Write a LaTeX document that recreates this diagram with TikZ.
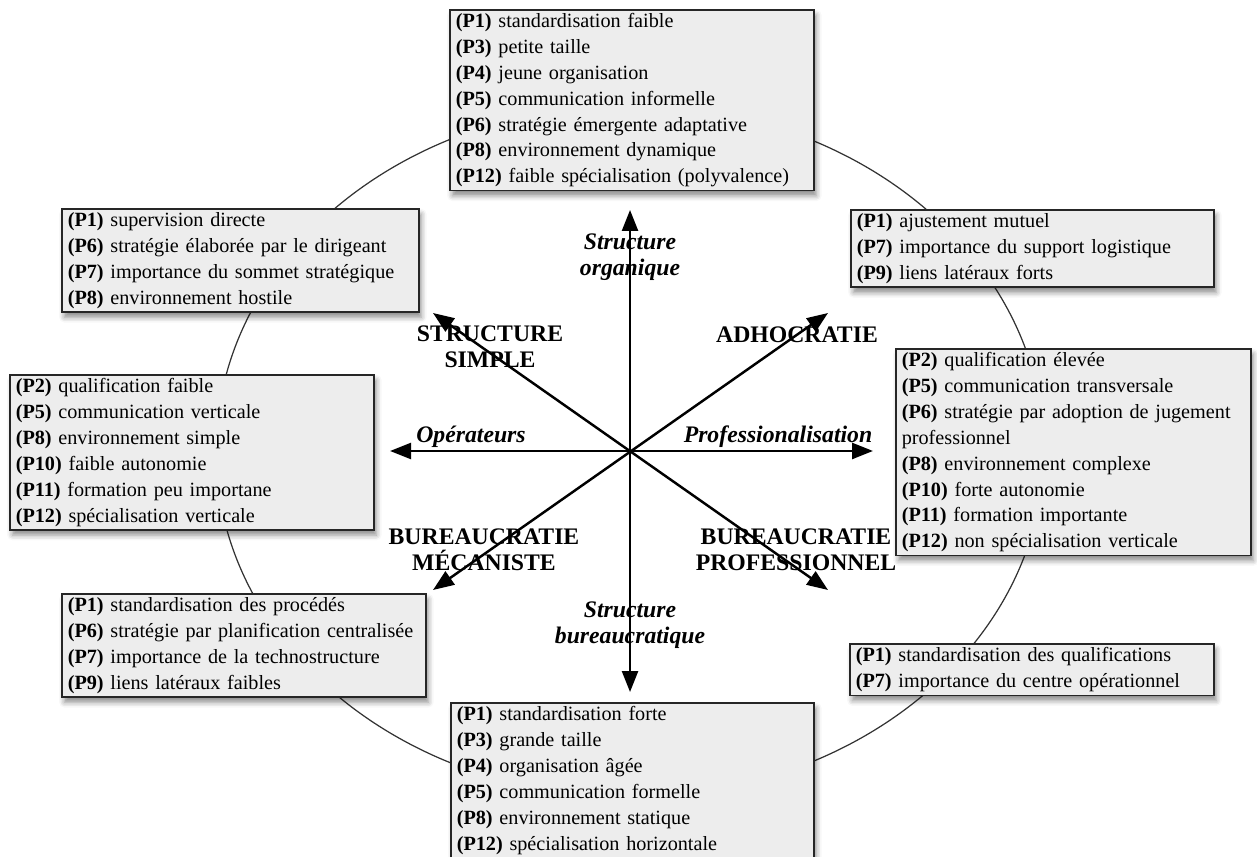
\documentclass[tikz,border=0pt]{standalone}
\usepackage{fontspec}
\setmainfont{Liberation Serif}
\usetikzlibrary{arrows.meta, shadows.blur}

\begin{document}
\begin{tikzpicture}[
    x=0.02cm, y=-0.02cm,
    param/.style={rectangle, draw=black!85, line width=0.9pt, fill=black!7, anchor=north west, align=left, inner xsep=0.12cm, inner ysep=0pt, text width=#1, font=\fontsize{11.5}{14.7}\selectfont, execute at begin node=\strut, execute at end node=\strut, blur shadow={shadow xshift=1.5pt, shadow yshift=-3pt, shadow blur radius=3pt, shadow opacity=45}},
    param/.default=7.04cm,
    config/.style={align=center, font=\fontsize{13.5}{14.8}\selectfont\bfseries},
    dim/.style={align=center, font=\fontsize{13.5}{14.8}\selectfont\bfseries\itshape},
    axis/.style={line width=1.4pt, {Triangle[length=0.42cm, width=0.32cm]}-{Triangle[length=0.42cm, width=0.32cm]}}
]
    \useasboundingbox (0,0) rectangle (1257,857);

    \coordinate (o) at (630,451);
    \coordinate (n) at (630,210);
    \coordinate (s) at (630,692);
    \coordinate (w) at (390,451);
    \coordinate (e) at (873,451);
    \coordinate (nw) at (433,313);
    \coordinate (ne) at (828,313);
    \coordinate (sw) at (433,590);
    \coordinate (se) at (828,590);

    \draw[black!80, line width=0.7pt] (o) ellipse [x radius=8.28cm, y radius=6.92cm];

    \draw[axis] (s) -- (n);
    \draw[axis] (w) -- (e);
    \draw[axis] (sw) -- (ne);
    \draw[axis] (se) -- (nw);

    \node[dim] (org) at (630,257) {Structure\\organique};
    \node[dim] (bur) at (630,625) {Structure\\bureaucratique};
    \node[dim] (ope) at (471,437) {Opérateurs};
    \node[dim] (pro) at (778,437) {Professionalisation};
    \node[config] (simple) at (490,347) {STRUCTURE\\SIMPLE};
    \node[config] (adho) at (797,335) {ADHOCRATIE};
    \node[config] (meca) at (484,550) {BUREAUCRATIE\\MÉCANISTE};
    \node[config] (prof) at (796,550) {BUREAUCRATIE\\PROFESSIONNEL};

    \node[param] (tbox) at (449,9) {\textbf{(P1)} standardisation faible\\ \textbf{(P3)} petite taille\\ \textbf{(P4)} jeune organisation\\ \textbf{(P5)} communication informelle\\ \textbf{(P6)} stratégie émergente adaptative\\ \textbf{(P8)} environnement dynamique\\ \textbf{(P12)} faible spécialisation (polyvalence)};
    \node[param=6.90cm] (tlbox) at (61,208) {\textbf{(P1)} supervision directe\\ \textbf{(P6)} stratégie élaborée par le dirigeant\\ \textbf{(P7)} importance du sommet stratégique\\ \textbf{(P8)} environnement hostile};
    \node[param=7.02cm] (trbox) at (850,209) {\textbf{(P1)} ajustement mutuel\\ \textbf{(P7)} importance du support logistique\\ \textbf{(P9)} liens latéraux forts};
    \node[param] (lbox) at (9,374) {\textbf{(P2)} qualification faible\\ \textbf{(P5)} communication verticale\\ \textbf{(P8)} environnement simple\\ \textbf{(P10)} faible autonomie\\ \textbf{(P11)} formation peu importane\\ \textbf{(P12)} spécialisation verticale};
    \node[param=6.86cm] (rbox) at (895,348) {\textbf{(P2)} qualification élevée\\ \textbf{(P5)} communication transversale\\ \textbf{(P6)} stratégie par adoption de jugement\\ professionnel\\ \textbf{(P8)} environnement complexe\\ \textbf{(P10)} forte autonomie\\ \textbf{(P11)} formation importante\\ \textbf{(P12)} non spécialisation verticale};
    \node[param] (blbox) at (61,593) {\textbf{(P1)} standardisation des procédés\\ \textbf{(P6)} stratégie par planification centralisée\\ \textbf{(P7)} importance de la technostructure\\ \textbf{(P9)} liens latéraux faibles};
    \node[param] (brbox) at (849,643) {\textbf{(P1)} standardisation des qualifications\\ \textbf{(P7)} importance du centre opérationnel};
    \node[param=7.02cm] (bbox) at (450,702) {\textbf{(P1)} standardisation forte\\ \textbf{(P3)} grande taille\\ \textbf{(P4)} organisation âgée\\ \textbf{(P5)} communication formelle\\ \textbf{(P8)} environnement statique\\ \textbf{(P12)} spécialisation horizontale};
\end{tikzpicture}
\end{document}
